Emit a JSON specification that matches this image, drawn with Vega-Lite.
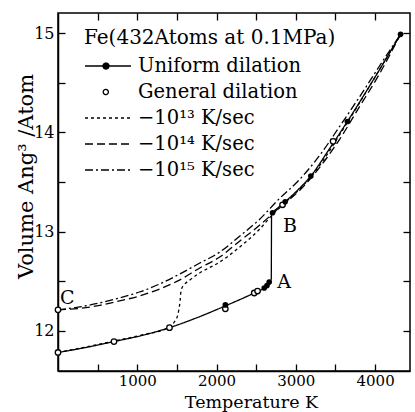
{
  "$schema": "https://vega.github.io/schema/vega-lite/v6.json",
  "width": 352,
  "height": 358,
  "autosize": "none",
  "padding": {"left": 58, "top": 13, "right": 5, "bottom": 41},
  "background": "white",
  "config": {
    "font": "DejaVu Serif",
    "view": {"stroke": "black", "strokeWidth": 1.5},
    "axis": {
      "domainColor": "black", "domainWidth": 1.5,
      "tickColor": "black", "tickWidth": 1.3, "tickSize": -7,
      "labelColor": "black", "titleColor": "black",
      "labelFont": "DejaVu Serif", "titleFont": "DejaVu Serif",
      "labelFontSize": 16, "titleFontSize": 20, "titleFontWeight": "normal",
      "grid": false, "labelPadding": 11
    }
  },
  "datasets": {
    "curves": [
      {"series": "Uniform dilation", "T": 0, "V": 11.78},
      {"series": "Uniform dilation", "T": 350, "V": 11.83},
      {"series": "Uniform dilation", "T": 706, "V": 11.89},
      {"series": "Uniform dilation", "T": 1050, "V": 11.95},
      {"series": "Uniform dilation", "T": 1406, "V": 12.03},
      {"series": "Uniform dilation", "T": 1750, "V": 12.13},
      {"series": "Uniform dilation", "T": 2111, "V": 12.25},
      {"series": "Uniform dilation", "T": 2475, "V": 12.38},
      {"series": "Uniform dilation", "T": 2601, "V": 12.43},
      {"series": "Uniform dilation", "T": 2636, "V": 12.455},
      {"series": "Uniform dilation", "T": 2664, "V": 12.49},
      {"series": "Uniform dilation", "T": 2690, "V": 12.52},
      {"series": "Uniform dilation", "T": 2694, "V": 13.18},
      {"series": "Uniform dilation", "T": 2706, "V": 13.19},
      {"series": "Uniform dilation", "T": 2865, "V": 13.3},
      {"series": "Uniform dilation", "T": 3000, "V": 13.4},
      {"series": "Uniform dilation", "T": 3189, "V": 13.56},
      {"series": "Uniform dilation", "T": 3420, "V": 13.83},
      {"series": "Uniform dilation", "T": 3650, "V": 14.11},
      {"series": "Uniform dilation", "T": 4000, "V": 14.56},
      {"series": "Uniform dilation", "T": 4321, "V": 14.99},

      {"series": "−10¹³ K/sec", "T": 0, "V": 11.78},
      {"series": "−10¹³ K/sec", "T": 350, "V": 11.835},
      {"series": "−10¹³ K/sec", "T": 706, "V": 11.895},
      {"series": "−10¹³ K/sec", "T": 1050, "V": 11.955},
      {"series": "−10¹³ K/sec", "T": 1406, "V": 12.035},
      {"series": "−10¹³ K/sec", "T": 1469, "V": 12.09},
      {"series": "−10¹³ K/sec", "T": 1511, "V": 12.16},
      {"series": "−10¹³ K/sec", "T": 1540, "V": 12.3},
      {"series": "−10¹³ K/sec", "T": 1553, "V": 12.41},
      {"series": "−10¹³ K/sec", "T": 1600, "V": 12.47},
      {"series": "−10¹³ K/sec", "T": 1662, "V": 12.51},
      {"series": "−10¹³ K/sec", "T": 1783, "V": 12.58},
      {"series": "−10¹³ K/sec", "T": 2035, "V": 12.69},
      {"series": "−10¹³ K/sec", "T": 2286, "V": 12.84},
      {"series": "−10¹³ K/sec", "T": 2538, "V": 13.02},
      {"series": "−10¹³ K/sec", "T": 2706, "V": 13.17},
      {"series": "−10¹³ K/sec", "T": 2865, "V": 13.29},
      {"series": "−10¹³ K/sec", "T": 3189, "V": 13.55},
      {"series": "−10¹³ K/sec", "T": 3650, "V": 14.1},
      {"series": "−10¹³ K/sec", "T": 4000, "V": 14.56},
      {"series": "−10¹³ K/sec", "T": 4321, "V": 14.99},

      {"series": "−10¹⁴ K/sec", "T": 0, "V": 12.21},
      {"series": "−10¹⁴ K/sec", "T": 274, "V": 12.225},
      {"series": "−10¹⁴ K/sec", "T": 526, "V": 12.255},
      {"series": "−10¹⁴ K/sec", "T": 777, "V": 12.3},
      {"series": "−10¹⁴ K/sec", "T": 1028, "V": 12.35},
      {"series": "−10¹⁴ K/sec", "T": 1280, "V": 12.42},
      {"series": "−10¹⁴ K/sec", "T": 1532, "V": 12.51},
      {"series": "−10¹⁴ K/sec", "T": 1783, "V": 12.63},
      {"series": "−10¹⁴ K/sec", "T": 2035, "V": 12.74},
      {"series": "−10¹⁴ K/sec", "T": 2286, "V": 12.9},
      {"series": "−10¹⁴ K/sec", "T": 2538, "V": 13.06},
      {"series": "−10¹⁴ K/sec", "T": 2790, "V": 13.24},
      {"series": "−10¹⁴ K/sec", "T": 3041, "V": 13.41},
      {"series": "−10¹⁴ K/sec", "T": 3293, "V": 13.64},
      {"series": "−10¹⁴ K/sec", "T": 3544, "V": 13.92},
      {"series": "−10¹⁴ K/sec", "T": 3796, "V": 14.25},
      {"series": "−10¹⁴ K/sec", "T": 4047, "V": 14.58},
      {"series": "−10¹⁴ K/sec", "T": 4321, "V": 14.99},

      {"series": "−10¹⁵ K/sec", "T": 0, "V": 12.21},
      {"series": "−10¹⁵ K/sec", "T": 274, "V": 12.24},
      {"series": "−10¹⁵ K/sec", "T": 526, "V": 12.28},
      {"series": "−10¹⁵ K/sec", "T": 777, "V": 12.33},
      {"series": "−10¹⁵ K/sec", "T": 1028, "V": 12.39},
      {"series": "−10¹⁵ K/sec", "T": 1280, "V": 12.47},
      {"series": "−10¹⁵ K/sec", "T": 1532, "V": 12.57},
      {"series": "−10¹⁵ K/sec", "T": 1783, "V": 12.68},
      {"series": "−10¹⁵ K/sec", "T": 2035, "V": 12.79},
      {"series": "−10¹⁵ K/sec", "T": 2286, "V": 12.95},
      {"series": "−10¹⁵ K/sec", "T": 2538, "V": 13.12},
      {"series": "−10¹⁵ K/sec", "T": 2790, "V": 13.33},
      {"series": "−10¹⁵ K/sec", "T": 3041, "V": 13.52},
      {"series": "−10¹⁵ K/sec", "T": 3293, "V": 13.76},
      {"series": "−10¹⁵ K/sec", "T": 3544, "V": 14.05},
      {"series": "−10¹⁵ K/sec", "T": 3796, "V": 14.35},
      {"series": "−10¹⁵ K/sec", "T": 4047, "V": 14.66},
      {"series": "−10¹⁵ K/sec", "T": 4321, "V": 14.99}
    ],
    "filled": [
      {"T": 2111, "V": 12.26},
      {"T": 2601, "V": 12.43},
      {"T": 2636, "V": 12.455},
      {"T": 2664, "V": 12.49},
      {"T": 2706, "V": 13.19},
      {"T": 2865, "V": 13.3},
      {"T": 3189, "V": 13.56},
      {"T": 3650, "V": 14.11},
      {"T": 4321, "V": 14.99}
    ],
    "open": [
      {"T": 0, "V": 11.78},
      {"T": 706, "V": 11.89},
      {"T": 1406, "V": 12.03},
      {"T": 2111, "V": 12.22},
      {"T": 2475, "V": 12.38},
      {"T": 2517, "V": 12.4},
      {"T": 0, "V": 12.21},
      {"T": 2832, "V": 13.27},
      {"T": 3470, "V": 13.91}
    ],
    "labels": [
      {"text": "A", "T": 2765, "V": 12.49},
      {"text": "B", "T": 2838, "V": 13.06},
      {"text": "C", "T": 25, "V": 12.33}
    ]
  },
  "layer": [
    {
      "data": {"name": "curves"},
      "mark": {"type": "line", "interpolate": "monotone", "color": "black", "strokeWidth": 1.3},
      "encoding": {
        "x": {
          "field": "T", "type": "quantitative",
          "scale": {"domain": [0, 4440], "nice": false, "zero": false},
          "axis": {
            "orient": "bottom",
            "values": [500, 1000, 1500, 2000, 2500, 3000, 3500, 4000],
            "format": "d",
            "labelPadding": 9,
            "labelFontSize": 15,
            "labelExpr": "datum.value % 1000 === 0 ? datum.label : ''",
            "title": "Temperature  K",
            "titleFontSize": 17.5,
            "titleX": 193, "titleY": 36, "titleBaseline": "alphabetic"
          }
        },
        "y": {
          "field": "V", "type": "quantitative",
          "scale": {"domain": [11.593, 15.205], "nice": false, "zero": false},
          "axis": {
            "orient": "left",
            "values": [12, 12.5, 13, 13.5, 14, 14.5, 15],
            "labelExpr": "datum.value % 1 === 0 ? format(datum.value, 'd') : ''",
            "title": "Volume   Ang³ /Atom",
            "titleFontSize": 21,
            "titleX": -26, "titleY": 163, "titleBaseline": "alphabetic", "titleAngle": -90
          }
        },
        "strokeDash": {
          "field": "series", "type": "nominal",
          "scale": {
            "domain": ["Uniform dilation", "General dilation", "−10¹³ K/sec", "−10¹⁴ K/sec", "−10¹⁵ K/sec"],
            "range": [[1, 0], [1, 0], [3, 3], [8, 4], [8, 3, 2, 3]]
          },
          "legend": {
            "orient": "none", "legendX": 26, "legendY": 15,
            "title": "Fe(432Atoms at 0.1MPa)",
            "titleFont": "DejaVu Serif", "titleFontSize": 20, "titleFontWeight": "normal", "titleColor": "black",
            "titleLimit": 0,
            "labelFont": "DejaVu Serif", "labelFontSize": 19.5, "labelColor": "black",
            "labelLimit": 0, "labelOffset": 32,
            "symbolSize": 400, "symbolStrokeColor": "black", "symbolStrokeWidth": 1.3,
            "rowPadding": 5, "titlePadding": 7, "padding": 0,
            "encode": {
              "symbols": {
                "update": {
                  "shape": {"signal": "datum.value === 'Uniform dilation' ? 'M-1,0H3.6M0.8,0A0.3,0.3,0,1,1,1.4,0A0.3,0.3,0,1,1,0.8,0Z' : datum.value === 'General dilation' ? 'M0.82,0A0.26,0.26,0,1,1,1.34,0A0.26,0.26,0,1,1,0.82,0Z' : 'M-1,0H3.6'"},
                  "fill": {"signal": "datum.value === 'Uniform dilation' ? 'black' : datum.value === 'General dilation' ? 'white' : 'transparent'"},
                  "stroke": {"value": "black"}
                }
              }
            }
          }
        },
        "detail": {"field": "series"}
      }
    },
    {
      "data": {"name": "open"},
      "mark": {"type": "point", "shape": "circle", "filled": true, "fill": "white", "stroke": "black", "strokeWidth": 1.3, "size": 30, "opacity": 1},
      "encoding": {
        "x": {"field": "T", "type": "quantitative", "axis": null},
        "y": {"field": "V", "type": "quantitative", "axis": null}
      }
    },
    {
      "data": {"name": "filled"},
      "mark": {"type": "point", "shape": "circle", "filled": true, "color": "black", "size": 32, "opacity": 1},
      "encoding": {
        "x": {"field": "T", "type": "quantitative", "axis": null},
        "y": {"field": "V", "type": "quantitative", "axis": null}
      }
    },
    {
      "data": {"name": "labels"},
      "mark": {"type": "text", "align": "left", "baseline": "middle", "font": "DejaVu Serif", "fontSize": 19, "color": "black"},
      "encoding": {
        "x": {"field": "T", "type": "quantitative", "axis": null},
        "y": {"field": "V", "type": "quantitative", "axis": null},
        "text": {"field": "text"}
      }
    },
    {
      "data": {"name": "labels"},
      "mark": {"type": "point", "opacity": 0},
      "encoding": {
        "x": {
          "field": "T", "type": "quantitative",
          "axis": {"orient": "top", "values": [500, 1000, 1500, 2000, 2500, 3000, 3500, 4000], "labels": false, "title": null, "domain": false}
        },
        "y": {
          "field": "V", "type": "quantitative",
          "axis": {"orient": "right", "values": [12, 12.5, 13, 13.5, 14, 14.5, 15], "labels": false, "title": null, "domain": false}
        }
      }
    }
  ]
}
